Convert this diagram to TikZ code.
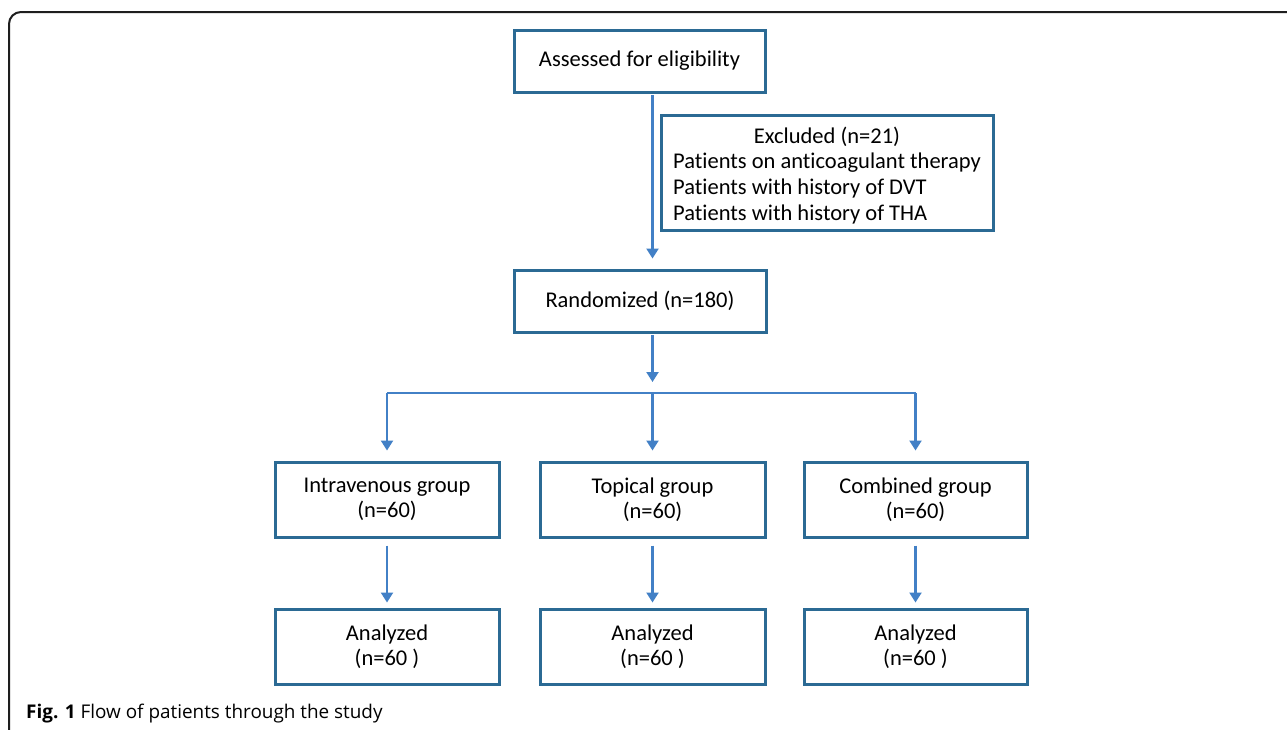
\documentclass[tikz,border=0pt]{standalone}
\usepackage{fontspec}
\setmainfont{Carlito}[Ligatures={NoCommon}]
\newfontfamily\capfont{Open Sans}
\usetikzlibrary{arrows.meta}
\definecolor{boxblue}{RGB}{43,106,148}
\definecolor{arrblue}{RGB}{66,128,198}
\definecolor{framegray}{RGB}{30,30,30}
\tikzset{
  flowbox/.style={draw=boxblue, line width=3pt, fill=white, inner sep=0pt,
    align=center, font=\fontsize{22.5}{25}\selectfont, text=black},
  link/.style={draw=arrblue, line width=2.2pt},
  arr/.style={link, -{Triangle[width=12pt,length=10pt]}},
}
\begin{document}
\begin{tikzpicture}[x=1pt,y=-1pt]
\useasboundingbox (0,0) rectangle (1287,729);
\begin{scope}
\clip (0,0) rectangle (1287,729);
\fill[white] (0,0) rectangle (1287,729);
\draw[framegray, line width=2pt, rounded corners=12pt] (9,12) rectangle (1310,750);
\end{scope}

\node[flowbox, minimum width=251pt, minimum height=62pt] (assess) at (639.5,61) {Assessed for eligibility};
\node[flowbox, minimum width=332pt, minimum height=115pt] (excl) at (827,172.5)
  {\fontsize{22.5}{25.7}\selectfont\raisebox{-4pt}[\height][\depth]{\begin{tabular}{@{}l@{}}\multicolumn{1}{@{}c@{}}{Excluded (n=21)}\\
   Patients on anticoagulant therapy\\ Patients with history of DVT\\ Patients with history of THA\end{tabular}}};
\node[flowbox, minimum width=252pt, minimum height=62pt] (rand) at (640,301) {Randomized (n=180)};

\node[flowbox, minimum width=224pt, minimum height=75pt] (iv) at (387,499.5) {Intravenous group\\(n=60)};
\node[flowbox, minimum width=225pt, minimum height=75pt] (topi) at (652.5,499.5) {Topical group\\(n=60)};
\node[flowbox, minimum width=223pt, minimum height=75pt] (comb) at (915.5,499.5) {Combined group\\(n=60)};

\node[flowbox, minimum width=224pt, minimum height=75pt] (a1) at (387,646.5) {Analyzed\\(n=60 )};
\node[flowbox, minimum width=225pt, minimum height=75pt] (a2) at (652.5,646.5) {Analyzed\\(n=60 )};
\node[flowbox, minimum width=223pt, minimum height=75pt] (a3) at (915.5,646.5) {Analyzed\\(n=60 )};

\coordinate (split) at (652.5,393);

\draw[arr, shorten <=1.5pt, shorten >=10pt] (assess.south -| topi.north) -- (rand.north -| topi.north);
\draw[arr, shorten <=1.5pt, shorten >=11pt] (rand.south -| split) -- (split);
\draw[link] (split -| iv.north) -- (split -| comb.north);
\draw[arr, shorten >=10pt] (split -| iv.north) -- (iv.north);
\draw[arr, shorten >=10pt] (split) -- (topi.north);
\draw[arr, shorten >=10pt] (split -| comb.north) -- (comb.north);

\draw[arr, shorten <=7pt, shorten >=5pt] (iv.south) -- (a1.north);
\draw[arr, shorten <=7pt, shorten >=5pt] (topi.south) -- (a2.north);
\draw[arr, shorten <=7pt, shorten >=5pt] (comb.south) -- (a3.north);

\node[anchor=base west, inner sep=0pt, font=\capfont\fontsize{18.9}{22}\selectfont] (cap) at (26,718)
  {\textbf{Fig. 1} Flow of patients through the study};
\end{tikzpicture}
\end{document}
